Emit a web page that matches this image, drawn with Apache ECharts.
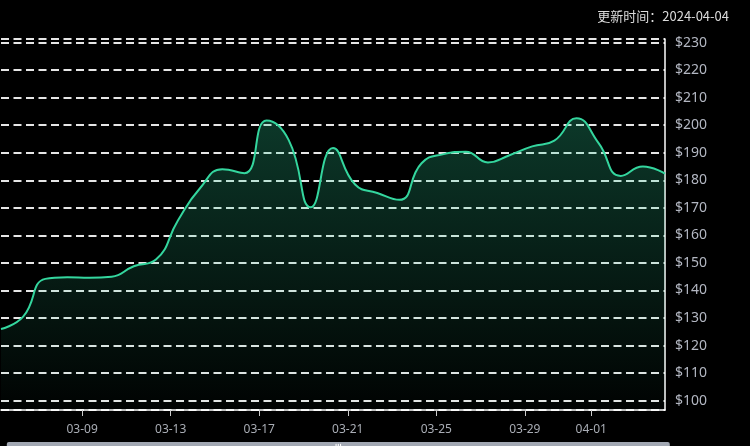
<!DOCTYPE html>
<html>
<head>
<meta charset="utf-8">
<style>
html,body{margin:0;padding:0;background:#000;}
#main{width:750px;height:446px;}
</style>
<script src="https://cdn.jsdelivr.net/npm/echarts@6/dist/echarts.min.js"></script>
</head>
<body>
<div id="main"></div>
<script>
var titleText = '更新时间：2024-04-04';
var dates = [
  '2024-03-05','2024-03-06','2024-03-07','2024-03-08','2024-03-09','2024-03-10',
  '2024-03-11','2024-03-12','2024-03-13','2024-03-14','2024-03-15','2024-03-16',
  '2024-03-17','2024-03-18','2024-03-19','2024-03-20','2024-03-21','2024-03-22',
  '2024-03-23','2024-03-24','2024-03-25','2024-03-26','2024-03-27','2024-03-28',
  '2024-03-29','2024-03-30','2024-03-31','2024-04-01','2024-04-02','2024-04-03',
  '2024-04-04'
];
var prices = [
  126, 130.5, 144.2, 144.8, 144.6, 145,
  148.8, 151.2, 165.5, 177.2, 184, 182.6,
  201.7, 194.6, 170.2, 191.7, 178.5, 175.4,
  172.9, 186.2, 189.5, 190.4, 186.5, 189.2,
  192.3, 194.4, 202.5, 193.5, 181.6, 185, 182.4
];
var yMin = 96.6, yMax = 231.3, ySplits = 13;
var dataHour = ' 08:00';

var seriesData = dates.map(function (d, i) { return [d + dataHour, prices[i]]; });

var chart = echarts.init(document.getElementById('main'));
chart.setOption({
  backgroundColor: '#000',
  animation: false,
  title: {
    text: titleText,
    right: 16,
    top: 5,
    textStyle: { color: '#dcdcdc', fontSize: 13, fontWeight: 'normal', fontFamily: 'Noto Sans CJK SC' }
  },
  grid: { left: 1, right: 85, top: 39, bottom: 36 },
  xAxis: {
    type: 'time',
    min: dates[0] + dataHour,
    max: dates[dates.length - 1] + dataHour,
    axisLine: { show: true, lineStyle: { color: '#ffffff', width: 1.5 } },
    axisTick: { show: true, length: 6, lineStyle: { color: '#cccccc' } },
    axisLabel: {
      color: '#a9adb5',
      fontSize: 12,
      margin: 14,
      fontFamily: 'Noto Sans',
      formatter: '{MM}-{dd}'
    },
    splitLine: { show: false }
  },
  yAxis: {
    type: 'value',
    position: 'right',
    min: yMin,
    max: yMax,
    splitNumber: ySplits,
    axisLine: { show: true, lineStyle: { color: '#ffffff', width: 1.5 } },
    axisTick: { show: false },
    axisLabel: {
      color: '#b3b7c2',
      fontSize: 14,
      margin: 10,
      fontFamily: 'Noto Sans',
      showMinLabel: false,
      showMaxLabel: false,
      formatter: function (v) { return '$' + v; }
    },
    splitLine: {
      show: true,
      lineStyle: { color: '#e6e6e6', width: 2, type: [8, 4.5] }
    }
  },
  dataZoom: [{
    type: 'slider',
    xAxisIndex: 0,
    start: 0,
    end: 100,
    left: 4,
    right: 83,
    top: 442,
    height: 30,
    showDetail: false,
    moveHandleStyle: { color: '#b4bac6', opacity: 0.9 }
  }],
  series: [{
    type: 'line',
    data: seriesData,
    smooth: true,
    showSymbol: false,
    lineStyle: { color: '#34d69e', width: 2 },
    itemStyle: { color: '#34d69e' },
    areaStyle: {
      color: new echarts.graphic.LinearGradient(0, 0, 0, 1, [
        { offset: 0, color: 'rgba(46,211,155,0.38)' },
        { offset: 1, color: 'rgba(46,211,155,0.02)' }
      ])
    }
  }]
});
</script>
</body>
</html>
